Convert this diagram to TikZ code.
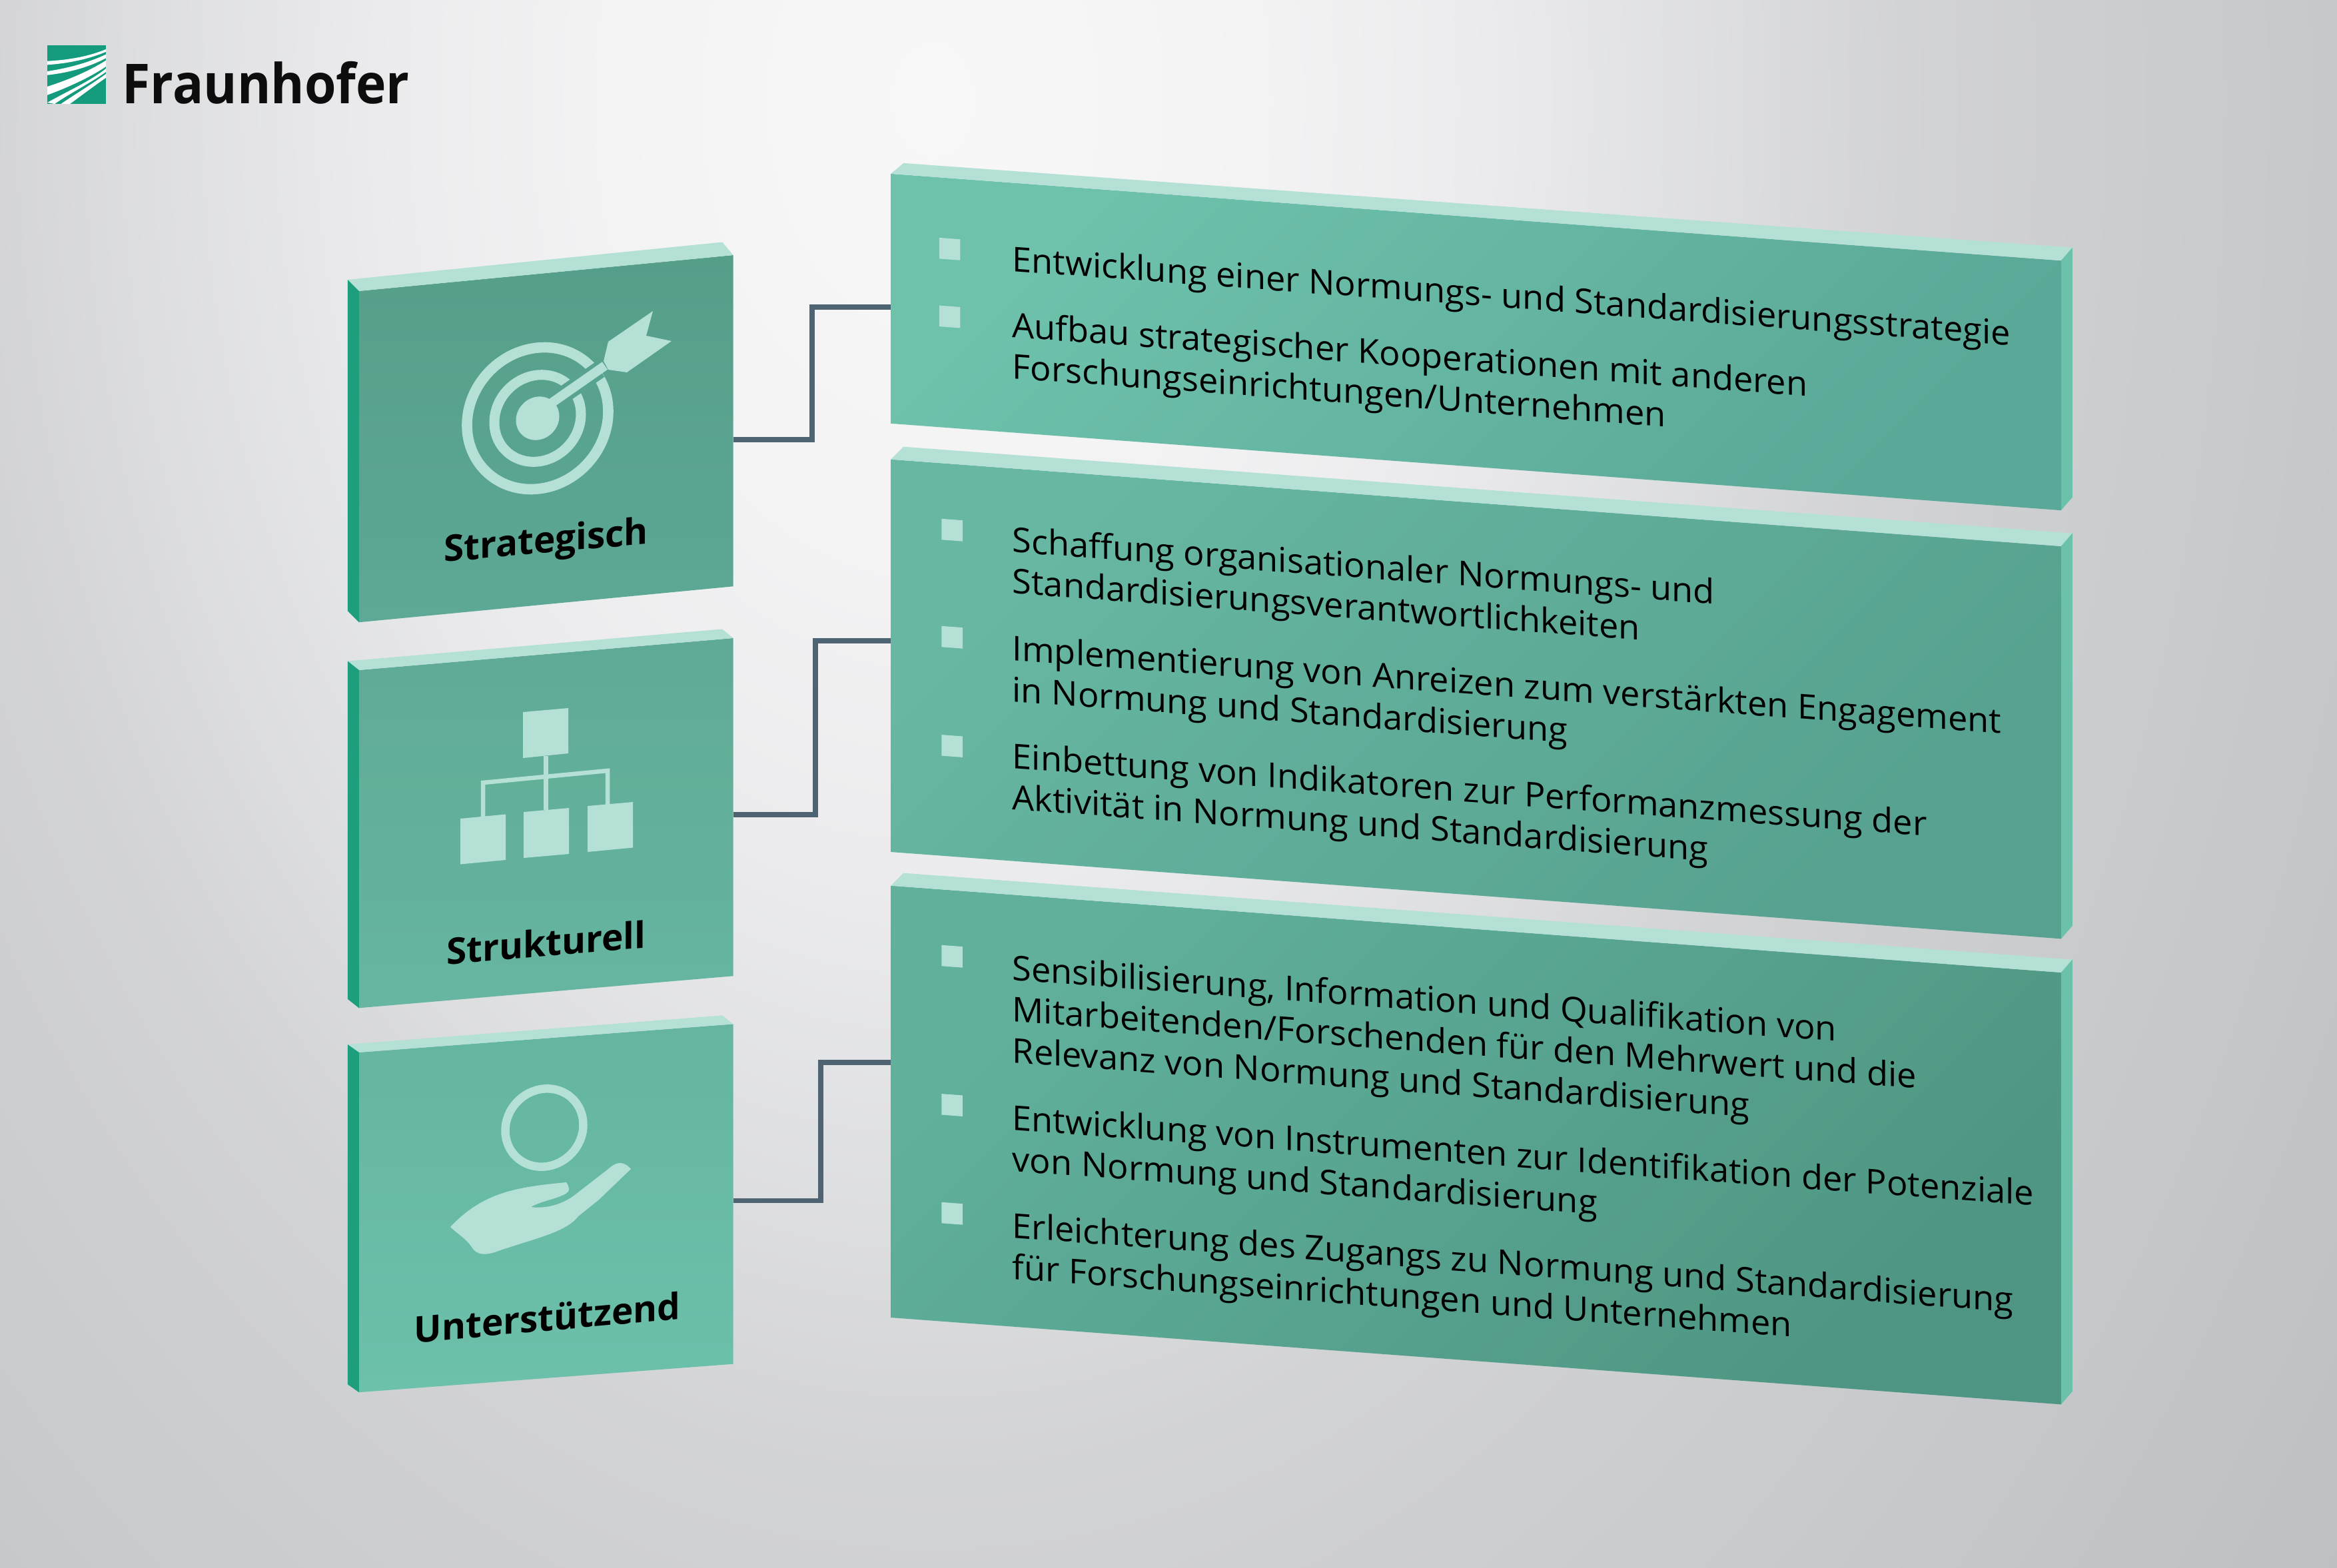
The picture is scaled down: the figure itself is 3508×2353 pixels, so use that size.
\documentclass[tikz,border=0pt]{standalone}
\usepackage{fontspec}
\setmainfont{Open Sans}
\usetikzlibrary{calc}
\definecolor{pale}{HTML}{B5E0D5}
\definecolor{darkside}{HTML}{1D9E7C}
\definecolor{lightside}{HTML}{6CC1AB}
\definecolor{wire}{HTML}{4F6472}
\definecolor{logogreen}{HTML}{149B7E}
\definecolor{boxAtop}{HTML}{559E8A}
\definecolor{boxAmid}{HTML}{58A38F}
\definecolor{boxAbot}{HTML}{5DA996}
\definecolor{boxBtop}{HTML}{5FAA96}
\definecolor{boxBbot}{HTML}{66B6A1}
\definecolor{boxCtop}{HTML}{65B5A0}
\definecolor{boxCbot}{HTML}{6CC1AB}
\definecolor{panelAtop}{HTML}{6EC2AC}
\definecolor{panelAbot}{HTML}{5AA897}
\definecolor{panelBtop}{HTML}{67B7A2}
\definecolor{panelBbot}{HTML}{56A18F}
\definecolor{panelCtop}{HTML}{60B09B}
\definecolor{panelCbot}{HTML}{4E9683}
\pgfdeclareradialshading{bgglow}{\pgfpointorigin}{%
  rgb(0bp)=(0.973,0.973,0.976);
  rgb(3.75bp)=(0.953,0.953,0.957);
  rgb(6.25bp)=(0.925,0.925,0.933);
  rgb(8.75bp)=(0.875,0.878,0.886);
  rgb(11.25bp)=(0.824,0.827,0.835);
  rgb(13.75bp)=(0.800,0.804,0.812);
  rgb(17.5bp)=(0.769,0.773,0.784);
  rgb(25bp)=(0.705,0.709,0.725);
  rgb(50bp)=(0.705,0.709,0.725)}

\begin{document}
\begin{tikzpicture}[x=0.01cm, y=-0.01cm, line join=miter,
    frontface/.style={rectangle, inner sep=0pt, outer sep=0pt, shade},
    boxface/.style={frontface, minimum width=5.615cm},
    panelface/.style={frontface, minimum width=17.556cm, yslant=-0.0742},
    paleface/.style={fill=pale},
    link/.style={draw=wire, line width=0.078cm},
    bulletmark/.style={rectangle, fill=pale, inner sep=0pt, minimum size=0.315cm, yslant=-0.0742},
    itemtext/.style={anchor=base west, inner sep=0pt, align=left, text=black,
        font=\fontsize{14.6}{17.6}\selectfont, yslant=-0.0742, xscale=1.019},
    boxlabel/.style={anchor=base, inner sep=0pt, text=black,
        font=\fontsize{15.6}{18}\selectfont\bfseries},
    iconring/.style={draw=pale}]
    \useasboundingbox (0,0) rectangle (3508,2353);

    % Background:
    \begin{scope}
        \clip (0,0) rectangle (3508,2353);
        \shade[shading=bgglow] (1400,150) ellipse (3250 and 4600);
    \end{scope}

    % Logo:
    \fill[logogreen] (71,68) rectangle (159,156);
    \begin{scope}
        \clip (71,68) rectangle (159,156);
        \fill[white] (71,91.7) .. controls (105,90) and (135,84) .. (159,74) -- (159,77.7) .. controls (135,88) and (105,95) .. (71,97.3) -- cycle;
        \fill[white] (71,107) .. controls (105,102) and (135,93) .. (159,81.7) -- (159,87.3) .. controls (135,100) and (105,109) .. (71,112.7) -- cycle;
        \fill[white] (71,130) .. controls (105,119) and (135,106) .. (159,90.7) -- (159,100) .. controls (135,116) and (105,130) .. (71,142.7) -- cycle;
        \fill[white] (71,154) .. controls (105,135) and (135,122) .. (159,103) -- (159,108) .. controls (135,125) and (105,140) .. (82,156) -- cycle;
        \fill[white] (91.5,156) .. controls (115,140) and (140,125) .. (159,111) -- (159,116.7) .. controls (140,130) and (120,145) .. (105,156) -- cycle;
    \end{scope}
    \node[anchor=base west, inner sep=0pt, text=black!95!white, xscale=0.93, font=\fontsize{23.5}{24}\selectfont\bfseries] (logotext) at (183,155.7) {Fraunhofer};

    % Left boxes:
    \node[boxface, minimum height=4.97cm, yslant=0.096, top color=boxAtop, bottom color=boxAbot] (boxA) at (819.7,658.6) {};
    \node[boxface, minimum height=5.07cm, yslant=0.0855, top color=boxBtop, bottom color=boxBbot] (boxB) at (819.7,1235.6) {};
    \node[boxface, minimum height=5.10cm, yslant=0.0757, top color=boxCtop, bottom color=boxCbot] (boxC) at (819.7,1813.8) {};
    \foreach \boxname/\dropleft/\dropright in {boxA/17/19.5,boxB/13.5/13.5,boxC/12/13}{
        \fill[paleface] (\boxname.north west) -- (\boxname.north east) -- +(-16.5,-\dropright) -- ($(\boxname.north west)+(-17,-\dropleft)$) -- cycle;
        \fill[darkside] (\boxname.north west) -- +(-17,-\dropleft) -- ($(\boxname.south west)+(-17,-\dropleft)$) -- (\boxname.south west) -- cycle;
    }

    % Right panels:
    \node[panelface, minimum height=3.747cm, top color=panelAtop, bottom color=panelAbot, shading angle=45] (panelA) at (2215.5,513.5) {};
    \node[panelface, minimum height=5.89cm, top color=panelBtop, bottom color=panelBbot, shading angle=45] (panelB) at (2215.5,1049.5) {};
    \node[panelface, minimum height=6.48cm, top color=panelCtop, bottom color=panelCbot, shading angle=45] (panelC) at (2215.5,1719) {};
    \foreach \panelname/\dropleft in {panelA/16,panelB/19,panelC/19}{
        \fill[paleface] (\panelname.north west) -- (\panelname.north east) -- +(17,-19.5) -- ($(\panelname.north west)+(19,-\dropleft)$) -- cycle;
        \fill[lightside] (\panelname.north east) -- +(17,-19.5) -- ($(\panelname.south east)+(17,-19.5)$) -- (\panelname.south east) -- cycle;
    }

    % Connectors:
    \coordinate (bendA) at (1219,461);
    \coordinate (bendB) at (1224,962);
    \coordinate (bendC) at (1232,1595);
    \draw[link] ($(boxA.east)+(0,28)$) -| (bendA) -- (bendA -| panelA.west);
    \draw[link] ($(boxB.east)+(0,11)$) -| (bendB) -- (bendB -| panelB.west);
    \draw[link] ($(boxC.east)+(0,10)$) -| (bendC) -- (bendC -| panelC.west);

    % Target icon:
    \begin{scope}[shift={(807,628)}, yslant=0.096]
        \draw[iconring, line width=0.156cm] (0,0) circle [radius=106];
        \draw[iconring, line width=0.15cm] (0,0) circle [radius=65];
        \fill[pale] (0,0) circle [radius=32.5];
    \end{scope}
    \draw[boxAmid, line width=0.26cm] (848,591) -- (900,555);
    \draw[pale, line width=0.14cm] (815,614) -- (908,549);
    \fill[pale] (913,513) -- (980,467) -- (970,504) -- (1008,512) -- (941,559) -- (913,555) -- (906,542) -- cycle;
    \node[boxlabel, yslant=0.09] (labelA) at (819.5,830) {Strategisch};

    % Org chart icon:
    \fill[pale] (785,1069) -- (853,1063) -- (853,1131) -- (785,1138) -- cycle;
    \fill[pale] (691,1229) -- (759,1222.5) -- (759,1291) -- (691,1297.5) -- cycle;
    \fill[pale] (786,1219) -- (854,1213) -- (854,1282) -- (786,1288) -- cycle;
    \fill[pale] (882,1210) -- (950,1204) -- (950,1272.5) -- (882,1279) -- cycle;
    \draw[pale, line width=0.065cm] (819.5,1135) -- (819.5,1216);
    \draw[pale, line width=0.065cm] (725,1226) -- (725,1175) -- (912,1157) -- (912,1208);
    \node[boxlabel, yslant=0.087] (labelB) at (820,1435.5) {Strukturell};

    % Hand icon:
    \begin{scope}[shift={(817,1693)}, yslant=0.0757]
        \draw[iconring, line width=0.125cm] (0,0) circle [radius=58.5];
    \end{scope}
    \fill[pale] (676,1842) .. controls (725,1790) and (775,1782) .. (850,1775)
        .. controls (853,1779) and (854,1782) .. (854,1785)
        .. controls (855,1797) and (815,1801) .. (797,1812)
        .. controls (820,1815) and (845,1808) .. (864,1793)
        -- (913,1755) .. controls (925,1744) and (935,1742) .. (947,1755)
        -- (899,1801) -- (868,1826)
        .. controls (850,1850) and (800,1860) .. (748,1878)
        .. controls (730,1885) and (715,1885) .. (708,1872)
        .. controls (700,1860) and (690,1855) .. (676,1842) -- cycle;
    \node[boxlabel, yslant=0.09] (labelC) at (821.5,1998) {Unterstützend};

    % Panel texts:
    \node[bulletmark] (bulletA1) at (1425.5,373.8) {};
    \node[bulletmark] (bulletA2) at (1425.5,475.5) {};
    \node[itemtext] (itemA1) at (1519,407) {Entwicklung einer Normungs- und Standardisierungsstrategie};
    \node[itemtext] (itemA2) at (1519,568) {Aufbau strategischer Kooperationen mit anderen\\Forschungseinrichtungen/Unternehmen};

    \node[bulletmark] (bulletB1) at (1429,795.7) {};
    \node[bulletmark] (bulletB2) at (1429,956.7) {};
    \node[bulletmark] (bulletB3) at (1429,1120) {};
    \node[itemtext] (itemB1) at (1519,890.7) {Schaffung organisationaler Normungs- und\\Standardisierungsverantwortlichkeiten};
    \node[itemtext] (itemB2) at (1519,1053) {Implementierung von Anreizen zum verstärkten Engagement\\in Normung und Standardisierung};
    \node[itemtext] (itemB3) at (1519,1215) {Einbettung von Indikatoren zur Performanzmessung der\\Aktivität in Normung und Standardisierung};

    \node[bulletmark] (bulletC1) at (1429,1435.7) {};
    \node[bulletmark] (bulletC2) at (1429,1659) {};
    \node[bulletmark] (bulletC3) at (1429,1821.7) {};
    \node[itemtext] (itemC1) at (1519,1595) {Sensibilisierung, Information und Qualifikation von\\Mitarbeitenden/Forschenden für den Mehrwert und die\\Relevanz von Normung und Standardisierung};
    \node[itemtext] (itemC2) at (1519,1758) {Entwicklung von Instrumenten zur Identifikation der Potenziale\\von Normung und Standardisierung};
    \node[itemtext] (itemC3) at (1519,1920) {Erleichterung des Zugangs zu Normung und Standardisierung\\für Forschungseinrichtungen und Unternehmen};
\end{tikzpicture}
\end{document}
